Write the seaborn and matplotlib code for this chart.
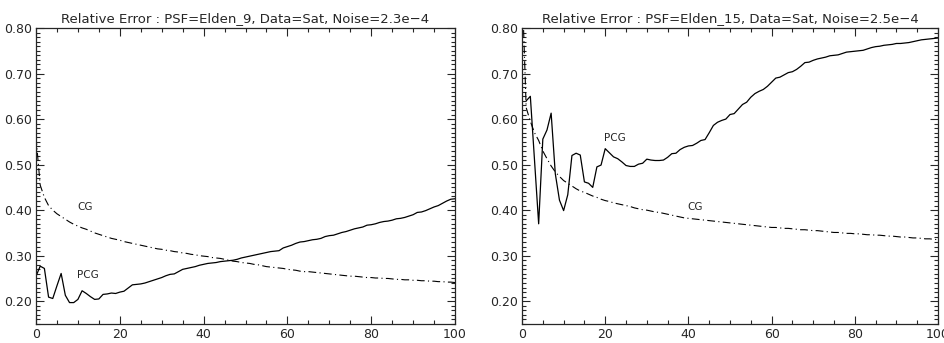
import numpy as np
import pandas as pd
import seaborn as sns
import matplotlib.pyplot as plt
from matplotlib.ticker import MultipleLocator, FormatStrFormatter

# iterations
iters = list(range(0, 101))

# left panel : PSF=Elden_9
pcg_9 = [0.255, 0.277, 0.272, 0.209, 0.206, 0.234, 0.261, 0.213, 0.197, 0.197,
         0.204, 0.223, 0.217, 0.210, 0.204, 0.205, 0.215, 0.216, 0.218, 0.217,
         0.220, 0.222, 0.229, 0.236, 0.237, 0.238, 0.240, 0.243, 0.246, 0.249,
         0.252, 0.256, 0.259, 0.260, 0.265, 0.270, 0.272, 0.274, 0.276, 0.279,
         0.281, 0.283, 0.284, 0.285, 0.287, 0.288, 0.289, 0.290, 0.292, 0.295,
         0.297, 0.299, 0.301, 0.303, 0.305, 0.307, 0.309, 0.310, 0.311, 0.317,
         0.320, 0.323, 0.327, 0.330, 0.331, 0.333, 0.335, 0.336, 0.338, 0.342,
         0.344, 0.345, 0.348, 0.351, 0.353, 0.356, 0.359, 0.361, 0.363, 0.367,
         0.368, 0.370, 0.373, 0.375, 0.376, 0.378, 0.381, 0.382, 0.384, 0.387,
         0.390, 0.395, 0.396, 0.399, 0.403, 0.407, 0.410, 0.415, 0.420, 0.424,
         0.425]
cg_9 = [0.560, 0.455, 0.428, 0.410, 0.400, 0.392, 0.386, 0.380, 0.374, 0.369,
        0.365, 0.361, 0.358, 0.354, 0.350, 0.347, 0.344, 0.341, 0.338, 0.336,
        0.334, 0.331, 0.329, 0.327, 0.325, 0.323, 0.321, 0.319, 0.317, 0.315,
        0.314, 0.312, 0.311, 0.309, 0.308, 0.306, 0.305, 0.303, 0.302, 0.300,
        0.299, 0.298, 0.296, 0.295, 0.294, 0.292, 0.290, 0.288, 0.287, 0.285,
        0.284, 0.283, 0.281, 0.280, 0.278, 0.276, 0.275, 0.274, 0.273, 0.272,
        0.270, 0.269, 0.268, 0.266, 0.265, 0.265, 0.264, 0.263, 0.262, 0.261,
        0.260, 0.259, 0.258, 0.257, 0.256, 0.255, 0.255, 0.254, 0.253, 0.252,
        0.252, 0.251, 0.251, 0.250, 0.250, 0.249, 0.248, 0.248, 0.247, 0.247,
        0.246, 0.246, 0.245, 0.245, 0.244, 0.244, 0.243, 0.243, 0.242, 0.242,
        0.241]

# right panel : PSF=Elden_15 (PCG starts at iteration 1)
pcg_15 = [np.nan,
          0.640, 0.650, 0.510, 0.370, 0.556, 0.576, 0.613, 0.480, 0.422, 0.399,
          0.434, 0.520, 0.525, 0.521, 0.462, 0.459, 0.450, 0.495, 0.499, 0.535,
          0.526, 0.517, 0.513, 0.506, 0.498, 0.496, 0.496, 0.501, 0.503, 0.512,
          0.510, 0.509, 0.509, 0.510, 0.516, 0.524, 0.525, 0.533, 0.538, 0.541,
          0.542, 0.547, 0.553, 0.555, 0.570, 0.586, 0.593, 0.597, 0.600, 0.610,
          0.612, 0.622, 0.632, 0.637, 0.648, 0.656, 0.661, 0.665, 0.672, 0.681,
          0.690, 0.692, 0.697, 0.702, 0.704, 0.709, 0.716, 0.724, 0.725, 0.729,
          0.732, 0.734, 0.736, 0.739, 0.740, 0.741, 0.744, 0.747, 0.748, 0.749,
          0.750, 0.751, 0.754, 0.757, 0.759, 0.760, 0.762, 0.763, 0.764, 0.766,
          0.766, 0.767, 0.768, 0.770, 0.772, 0.774, 0.775, 0.776, 0.777, 0.778]
cg_15 = [0.900, 0.625, 0.595, 0.570, 0.553, 0.530, 0.513, 0.497, 0.484, 0.474,
         0.465, 0.459, 0.453, 0.447, 0.442, 0.439, 0.435, 0.431, 0.428, 0.424,
         0.421, 0.419, 0.416, 0.414, 0.412, 0.410, 0.408, 0.405, 0.403, 0.401,
         0.400, 0.398, 0.396, 0.395, 0.393, 0.391, 0.389, 0.387, 0.385, 0.383,
         0.382, 0.381, 0.380, 0.379, 0.378, 0.377, 0.376, 0.375, 0.374, 0.373,
         0.372, 0.371, 0.370, 0.369, 0.368, 0.367, 0.366, 0.365, 0.364, 0.363,
         0.362, 0.362, 0.361, 0.360, 0.360, 0.359, 0.358, 0.357, 0.357, 0.356,
         0.355, 0.355, 0.354, 0.353, 0.352, 0.351, 0.351, 0.350, 0.349, 0.349,
         0.348, 0.348, 0.347, 0.346, 0.346, 0.345, 0.345, 0.344, 0.343, 0.343,
         0.342, 0.341, 0.341, 0.340, 0.339, 0.339, 0.338, 0.337, 0.337, 0.336,
         0.335]

titles = ["Relative Error : PSF=Elden_9, Data=Sat, Noise=2.3e\u22124",
          "Relative Error : PSF=Elden_15, Data=Sat, Noise=2.5e\u22124"]
labels = [[("CG", 11.7, 0.407), ("PCG", 12.4, 0.257)],
          [("PCG", 22.4, 0.558), ("CG", 41.7, 0.407)]]

sns.set_style("ticks")
plt.rcParams['font.family'] = ['DejaVu Sans']

fig = plt.figure(figsize=(9.45, 3.43), dpi=100)
ax1 = fig.add_axes([0.0381, 0.0554, 0.4434, 0.8630])
ax2 = fig.add_axes([0.5524, 0.0554, 0.4402, 0.8630])

panels = [(ax1, pcg_9, cg_9), (ax2, pcg_15, cg_15)]
for i, (ax, pcg, cg) in enumerate(panels):
    df = pd.DataFrame({"iter": iters, "PCG": pcg, "CG": cg})
    sns.lineplot(data=df, x="iter", y="PCG", ax=ax, color="black", lw=0.9)
    sns.lineplot(data=df, x="iter", y="CG", ax=ax, color="black", lw=0.8,
                 linestyle=(0, (7, 3, 1, 3)))
    ax.set_xlim(0, 100)
    ax.set_ylim(0.15, 0.80)
    ax.set_xlabel("")
    ax.set_ylabel("")
    ax.xaxis.set_major_locator(MultipleLocator(20))
    ax.xaxis.set_minor_locator(MultipleLocator(5))
    ax.yaxis.set_major_locator(MultipleLocator(0.1))
    ax.yaxis.set_minor_locator(MultipleLocator(0.01))
    ax.yaxis.set_major_formatter(FormatStrFormatter("%.2f"))
    ax.tick_params(which="both", direction="in", top=True, right=True,
                   width=0.8, labelsize=9, pad=3)
    ax.tick_params(which="major", length=6)
    ax.tick_params(which="minor", length=3)
    for s in ax.spines.values():
        s.set_linewidth(0.9)
    ax.set_title(titles[i], fontsize=9.5, pad=4)
    for txt, x, y in labels[i]:
        ax.text(x, y, txt, fontsize=7.5, ha="center", va="center")

fig.savefig("out.png", dpi=100)
